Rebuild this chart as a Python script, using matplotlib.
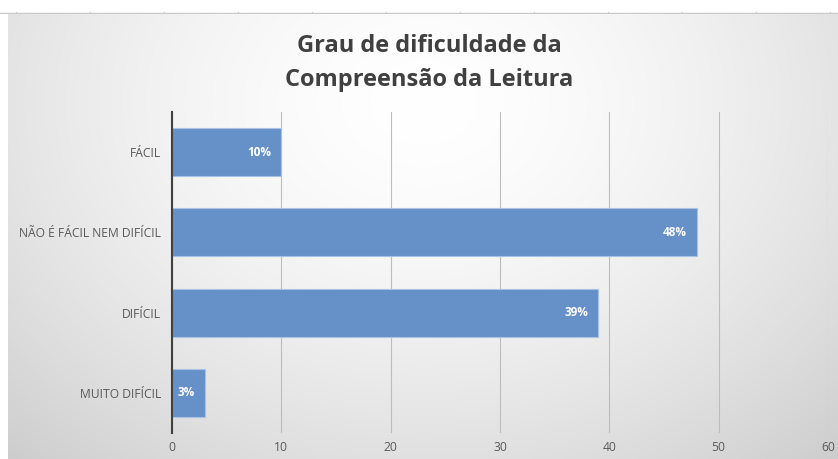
import matplotlib.pyplot as plt
import numpy as np

# Data
categories = ['FÁCIL', 'NÃO É FÁCIL NEM DIFÍCIL', 'DIFÍCIL', 'MUITO DIFÍCIL']
values = [10, 48, 39, 3]
labels = ['10%', '48%', '39%', '3%']
xticks = [0, 10, 20, 30, 40, 50, 60]

plt.rcParams['font.family'] = ['Open Sans', 'DejaVu Sans']

fig = plt.figure(figsize=(8.38, 4.59), dpi=100)
fig.patch.set_facecolor('white')

# radial grey gradient background of the chart area
bg = fig.add_axes([8 / 838, 0, 1 - 8 / 838, (459 - 13) / 459], zorder=0)
yy, xx = np.mgrid[0:1:300j, 0:1:500j]
r = np.sqrt(((xx - 0.5) / 0.75) ** 2 + ((yy - 0.2) / 1.1) ** 2)
shade = 1.0 - 0.2 * np.clip(r, 0, 1) ** 1.6
bg.imshow(np.dstack([shade] * 3), aspect='auto', extent=[0, 1, 1, 0])
bg.axis('off')

# thin line with ticks at the very top (edge of the screenshot)
top = fig.add_axes([0, (459 - 14) / 459, 1, 2 / 459], zorder=1)
top.axhline(0.5, color='#c8c8c8', lw=1)
for xt in np.arange(16, 838, 74):
    top.plot([xt, xt], [0.5, 1.5], color='#c8c8c8', lw=0.8)
top.set_xlim(0, 838)
top.set_ylim(0, 1)
top.axis('off')

ax = fig.add_axes([172 / 838, (459 - 433) / 459, (828 - 172) / 838, (433 - 112) / 459], zorder=2)
ax.patch.set_alpha(0)

y = np.arange(len(categories))
bars = ax.barh(y, values, height=0.6, color='#6690c8', edgecolor='#a8c2e6', linewidth=0.8, zorder=3)

for yi, v, lab in zip(y, values, labels):
    ax.text(v - 0.9, yi, lab, ha='right', va='center', color='white',
            fontsize=8.5, fontweight='bold', zorder=4)

ax.set_xlim(0, 60)
ax.set_ylim(len(categories) - 0.5, -0.5)
ax.set_xticks(xticks)
ax.set_yticks(y)
ax.set_yticklabels(categories)
ax.tick_params(axis='both', length=0, colors='#595959', labelsize=8.7)
ax.tick_params(axis='x', pad=6)
ax.tick_params(axis='y', pad=8)

ax.xaxis.grid(True, color='#bdbdbd', lw=0.8, zorder=1)
for s in ['top', 'right', 'bottom']:
    ax.spines[s].set_visible(False)
ax.spines['left'].set_color('#404040')
ax.spines['left'].set_linewidth(1.5)
ax.spines['left'].set_zorder(5)

fig.text(0.512, 0.862, 'Grau de dificuldade da\nCompreensão da Leitura', ha='center', va='center',
         fontsize=17, fontweight='bold', color='#404040', linespacing=1.55)

fig.savefig('out.png', dpi=100)
